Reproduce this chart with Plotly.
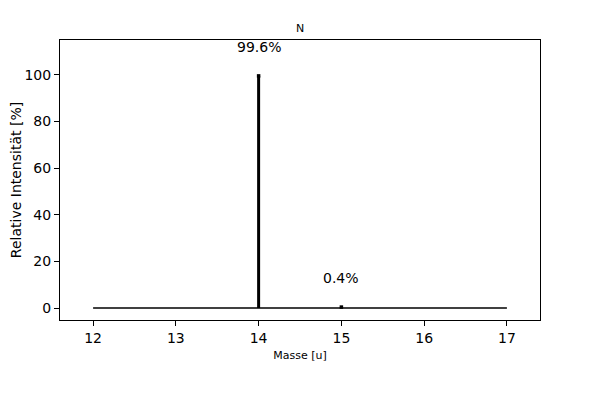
import plotly.graph_objects as go

masses = [14, 15]
intensities = [99.6, 0.4]
labels = ["99.6%", "0.4%"]
baseline_x = [12, 17]
baseline_y = [0, 0]
title = "N"

# page body adds an 8px offset; margins are shifted to compensate
OFF = 8

fig = go.Figure()
fig.add_trace(go.Scatter(x=baseline_x, y=baseline_y, mode="lines",
                         line=dict(color="black", width=1.5), showlegend=False, hoverinfo="skip"))
for m, v in zip(masses, intensities):
    fig.add_trace(go.Scatter(x=[m, m], y=[0, v], mode="lines",
                             line=dict(color="black", width=3), showlegend=False))
fig.add_trace(go.Scatter(x=masses, y=intensities, mode="markers",
                         marker=dict(symbol="square", size=3.5, color="black",
                                     line=dict(width=0)),
                         showlegend=False))
for m, v, t in zip(masses, intensities, labels):
    fig.add_annotation(x=m, y=v + 10, text=t, showarrow=False, yanchor="bottom", yshift=-4,
                       font=dict(size=14, color="black", family="DejaVu Sans"))

fig.update_layout(
    width=600, height=400,
    margin=dict(l=60 - OFF, r=60 + OFF, t=40 - OFF, b=80 + OFF, autoexpand=False),
    plot_bgcolor="white", paper_bgcolor="white",
    font=dict(family="DejaVu Sans", color="black"),
    title=dict(text=title, x=(300 - OFF) / 600, xanchor="center", y=1 - (28 - OFF) / 400,
               yanchor="middle", font=dict(size=11, color="black")),
)
fig.update_xaxes(range=[11.6, 17.4], tickmode="array", tickvals=[12, 13, 14, 15, 16, 17],
                 ticks="outside", ticklen=5, tickwidth=1, tickcolor="black",
                 showline=True, linecolor="black", linewidth=1, mirror=True,
                 showgrid=False, zeroline=False, tickfont=dict(size=14), automargin=False,
                 title=dict(text="Masse [u]", font=dict(size=11), standoff=6))
fig.update_yaxes(range=[-5.15, 115], tickmode="array", tickvals=[0, 20, 40, 60, 80, 100],
                 ticks="outside", ticklen=5, tickwidth=1, tickcolor="black",
                 showline=True, linecolor="black", linewidth=1, mirror=True,
                 showgrid=False, zeroline=False, tickfont=dict(size=14), automargin=False,
                 title=dict(text="Relative Intensität [%]", font=dict(size=14), standoff=17))
fig.write_html("out.html")
